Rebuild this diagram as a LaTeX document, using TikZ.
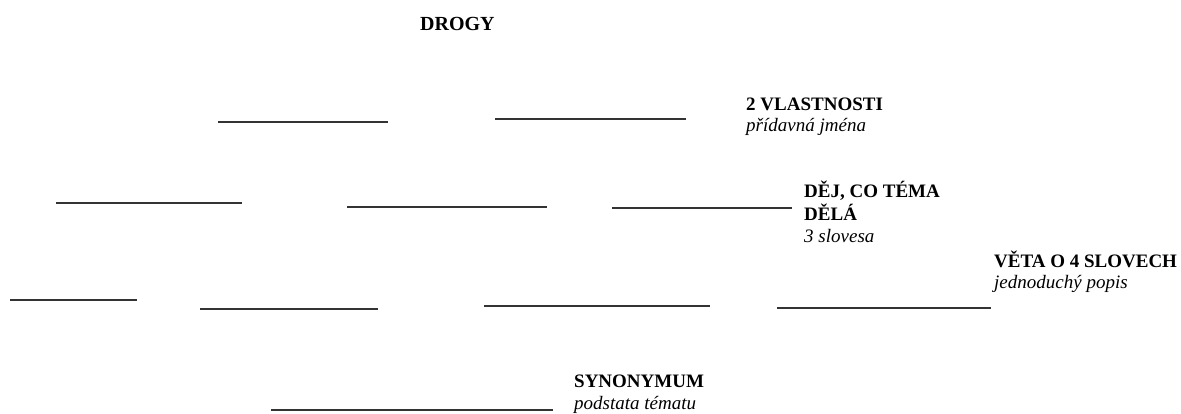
\documentclass[tikz,border=0pt]{standalone}
\usepackage{fontspec}
\setmainfont{Liberation Serif}
\begin{document}
\begin{tikzpicture}[x=1pt,y=-1pt,
  lbl/.style={anchor=base west,inner sep=0pt,font=\fontsize{19}{21}\selectfont\bfseries},
  sub/.style={anchor=base west,inner sep=0pt,font=\fontsize{19}{21}\selectfont\itshape},
  blank/.style={line width=1.4pt,draw=black!80}]
\useasboundingbox (0,0) rectangle (1181,413);
% texts
\node[lbl,font=\fontsize{20}{22}\selectfont\bfseries] (drogy) at (420,30) {DROGY};
\node[lbl] (vl) at (746,110) {2 VLASTNOSTI};
\node[sub] (vls) at (746,131) {přídavná jména};
\node[lbl] (dej1) at (804,197) {DĚJ, CO TÉMA};
\node[lbl] (dej2) at (804,220) {DĚLÁ};
\node[sub] (dejs) at (804,242) {3 slovesa};
\node[lbl] (veta) at (994,267) {VĚTA O 4 SLOVECH};
\node[sub] (vetas) at (994,288) {jednoduchý popis};
\node[lbl] (syn) at (574,387) {SYNONYMUM};
\node[sub] (syns) at (574,409) {podstata tématu};
% blanks
\draw[blank] (218,122) -- (388,122);
\draw[blank] (495,119) -- (686,119);
\draw[blank] (56,203) -- (242,203);
\draw[blank] (347,207) -- (547,207);
\draw[blank] (612,208) -- (792,208);
\draw[blank] (10,300) -- (137,300);
\draw[blank] (200,309) -- (378,309);
\draw[blank] (484,306) -- (710,306);
\draw[blank] (777,308) -- (991,308);
\draw[blank] (271,410) -- (553,410);
\end{tikzpicture}
\end{document}
